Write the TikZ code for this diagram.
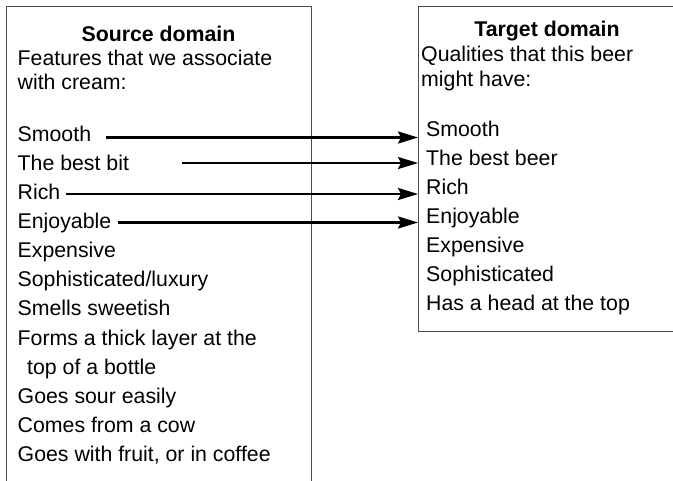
\documentclass[tikz,border=0pt]{standalone}
\usepackage{fontspec}
\setmainfont{Liberation Sans}
\usetikzlibrary{arrows.meta}
\begin{document}
\begin{tikzpicture}[x=1pt,y=-1pt,
  txt/.style={anchor=base west, inner sep=0pt, font=\fontsize{21.3}{24}\selectfont},
  hdr/.style={anchor=base, inner sep=0pt, font=\fontsize{21.3}{24}\selectfont\bfseries},
  frame/.style={draw=black!70, line width=0.9pt},
  link/.style={line width=2.3pt, -{Stealth[length=20pt,width=12pt,inset=3pt]}}]
\useasboundingbox (0,0) rectangle (673,481);
% frames
\draw[frame] (6,481) -- (6,6) -- (311,6) -- (311,481);
\draw[frame] (673,6) -- (418,6) -- (418,331) -- (673,331);
% source domain
\node[hdr] (sh) at (158.5,41.7) {Source domain};
\node[txt] (s1) at (17.5,66) {Features that we associate};
\node[txt] (s2) at (17.5,90) {with cream:};
\node[txt] (l0) at (17.5,141.7) {Smooth};
\node[txt] (l1) at (17.5,170.8) {The best bit};
\node[txt] (l2) at (17.5,199.8) {Rich};
\node[txt] (l3) at (17.5,228.9) {Enjoyable};
\node[txt] (l4) at (17.5,257.9) {Expensive};
\node[txt] (l5) at (17.5,287.0) {Sophisticated/luxury};
\node[txt] (l6) at (17.5,316.0) {Smells sweetish};
\node[txt] (l7) at (17.5,345.1) {Forms a thick layer at the};
\node[txt] (l8) at (27,374.1) {top of a bottle};
\node[txt] (l9) at (17.5,403.2) {Goes sour easily};
\node[txt] (l10) at (17.5,432.2) {Comes from a cow};
\node[txt] (l11) at (17.5,461.3) {Goes with fruit, or in coffee};
% target domain
\node[hdr] (th) at (547,36.5) {Target domain};
\node[txt] (t1) at (421,62) {Qualities that this beer};
\node[txt] (t2) at (421,87) {might have:};
\node[txt] (r0) at (426,137) {Smooth};
\node[txt] (r1) at (426,166) {The best beer};
\node[txt] (r2) at (426,195) {Rich};
\node[txt] (r3) at (426,224) {Enjoyable};
\node[txt] (r4) at (426,253) {Expensive};
\node[txt] (r5) at (426,282) {Sophisticated};
\node[txt] (r6) at (426,311) {Has a head at the top};
% arrows
\coordinate (a0) at (106,137.5);
\coordinate (b0) at (418,137.5);
\coordinate (a1) at (182,163);
\coordinate (b1) at (418,163);
\coordinate (a2) at (66,194);
\coordinate (b2) at (418,194);
\coordinate (a3) at (118,222.5);
\coordinate (b3) at (418,222.5);
\draw[link] (a0) -- (b0);
\draw[link] (a1) -- (b1);
\draw[link] (a2) -- (b2);
\draw[link] (a3) -- (b3);
\end{tikzpicture}
\end{document}
